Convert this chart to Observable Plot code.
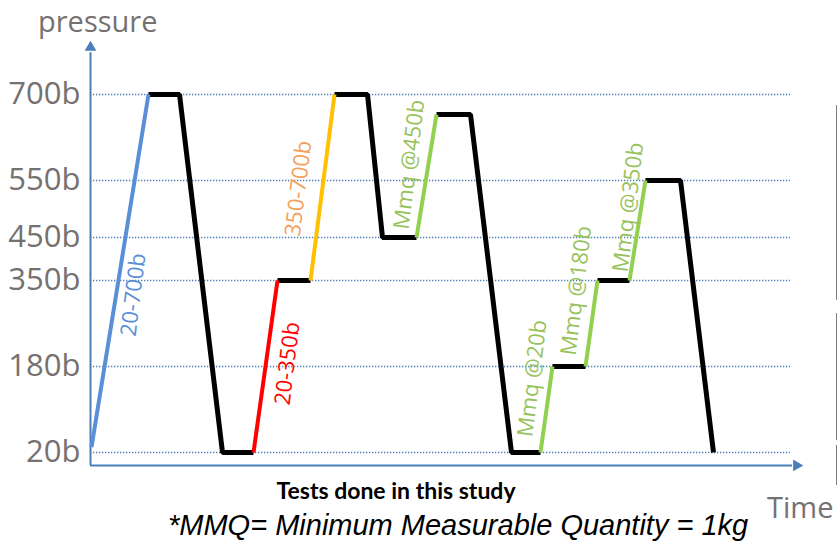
<!DOCTYPE html>
<html>
<head>
<meta charset="utf-8">
<script src="https://cdn.jsdelivr.net/npm/d3@7"></script>
<script src="https://cdn.jsdelivr.net/npm/@observablehq/plot@0.6"></script>
<style>
  html, body { margin: 0; padding: 0; background: #fff; }
  #wrap { position: relative; width: 838px; height: 543px; overflow: hidden; font-family: "Open Sans", sans-serif; }
  #wrap svg { position: absolute; left: 0; top: 0; }
  .ann { position: absolute; white-space: nowrap; line-height: 1; }
  #ylab { left: 38px; top: 6px; font-size: 29px; color: #767171; }
  #xlab { left: 767px; top: 492px; font-size: 29px; color: #767171; }
  #tests { left: 396px; top: 479px; transform: translateX(-50%); font-size: 23px; font-weight: bold; color: #000; font-family: Lato, sans-serif; }
  #mmq { left: 168px; top: 511px; font-size: 29px; font-style: italic; color: #000; font-family: "Liberation Sans", Arial, sans-serif; }
  .edge { position: absolute; left: 836px; width: 1px; background: #7f7f7f; }
</style>
</head>
<body>
<div id="wrap"></div>
<script>
// Pressure profile (time in arbitrary units, pressure in bar)
const times     = [1, 58, 89, 132, 163, 187, 220, 244, 277, 292, 326, 346, 380, 421, 450, 462, 495, 507, 539, 555, 590, 623];
const pressures = [30, 700, 700, 20, 20, 350, 350, 700, 700, 450, 450, 665, 665, 20, 20, 180, 180, 350, 350, 550, 550, 20];
// type of each segment between consecutive points
const segmentTypes = ["20-700b", "cycle", "cycle", "cycle", "20-350b", "cycle", "350-700b", "cycle", "cycle", "cycle",
                      "Mmq", "cycle", "cycle", "cycle", "Mmq", "cycle", "Mmq", "cycle", "Mmq", "cycle", "cycle"];
const yTicks = [20, 180, 350, 450, 550, 700];
const labelTexts     = ["20-700b", "20-350b", "350-700b", "Mmq @450b", "Mmq @20b", "Mmq @180b", "Mmq @350b"];
const labelTypes     = ["20-700b", "20-350b", "350-700b", "Mmq", "Mmq", "Mmq", "Mmq"];
const labelTimes     = [43, 197, 208, 319, 442, 486, 538];
const labelPressures = [322, 186, 536, 578, 158, 330, 503];

const lineColors = {"20-700b": "#5a8fd7", "20-350b": "#ff0000", "350-700b": "#ffc000", "Mmq": "#92d050"};
const textColors = {"20-700b": "#5a8fd7", "20-350b": "#ff0000", "350-700b": "#f5a05c", "Mmq": "#97c25c"};
const axisColor = "#4a7ebb";

// build runs of consecutive same-type segments
const rows = [];
let run = 0;
for (let i = 0; i < segmentTypes.length; i++) {
  if (i === 0 || segmentTypes[i] !== segmentTypes[i - 1]) {
    run++;
    rows.push({t: times[i], p: pressures[i], type: segmentTypes[i], run});
  }
  rows.push({t: times[i + 1], p: pressures[i + 1], type: segmentTypes[i], run});
}
const labels = labelTexts.map((text, i) => ({text, type: labelTypes[i], t: labelTimes[i], p: labelPressures[i]}));

const axisBottom = -4, axisTop = 773, arrowY = 782, arrowT = 706, gridEnd = 700;

const textMarks = Object.keys(textColors).map(k =>
  Plot.text(labels.filter(d => d.type === k), {
    x: "t", y: "p", text: "text", rotate: -83, fill: textColors[k],
    fontSize: 22, textAnchor: "middle", lineAnchor: "middle", fontFamily: "Open Sans"
  })
);

const chart = Plot.plot({
  width: 838,
  height: 543,
  marginLeft: 90,
  marginRight: 33,
  marginTop: 38,
  marginBottom: 78,
  style: {fontFamily: "Open Sans, sans-serif", background: "transparent", overflow: "visible"},
  x: {type: "linear", domain: [0, 715], axis: null},
  y: {type: "linear", domain: yTicks, range: [452, 366, 280, 237, 180, 94], axis: null},
  color: {domain: Object.keys(lineColors), range: Object.values(lineColors)},
  marks: [
    Plot.ruleY(yTicks, {x1: 0, x2: gridEnd, stroke: axisColor, strokeWidth: 1.6, strokeDasharray: "1.3 1.7"}),
    Plot.ruleX([0], {y1: axisBottom, y2: axisTop, stroke: axisColor, strokeWidth: 2}),
    Plot.ruleY([axisBottom], {x1: 0, x2: arrowT - 4, stroke: axisColor, strokeWidth: 2}),
    Plot.dot([{t: 0, p: arrowY}], {x: "t", y: "p", symbol: "triangle2", r: 5.6, fill: axisColor, stroke: null}),
    Plot.dot([{t: arrowT, p: axisBottom}], {x: "t", y: "p", symbol: "triangle2", r: 5.6, fill: axisColor, stroke: null, rotate: 90}),
    Plot.axisY(yTicks, {tickFormat: d => `${d}b`, tickSize: 0, tickPadding: 10, fontSize: 31, fill: "#767171", label: null}),
    Plot.line(rows.filter(r => r.type === "cycle"), {x: "t", y: "p", z: "run", stroke: "#000", strokeWidth: 5, strokeLinejoin: "miter", strokeLinecap: "butt"}),
    Plot.line(rows.filter(r => r.type !== "cycle"), {x: "t", y: "p", z: "run", stroke: "type", strokeWidth: 4, strokeLinecap: "butt"}),
    ...textMarks
  ]
});

const wrap = document.getElementById("wrap");
wrap.appendChild(chart);
const add = (id, text) => { const d = document.createElement("div"); d.className = "ann"; d.id = id; d.textContent = text; wrap.appendChild(d); };
add("ylab", "pressure");
add("xlab", "Time");
add("tests", "Tests done in this study");
add("mmq", "*MMQ= Minimum Measurable Quantity = 1kg");
[[105, 300], [313, 440], [445, 485]].forEach(([a, b]) => {
  const e = document.createElement("div"); e.className = "edge"; e.style.top = a + "px"; e.style.height = (b - a) + "px"; wrap.appendChild(e);
});
</script>
</body>
</html>
